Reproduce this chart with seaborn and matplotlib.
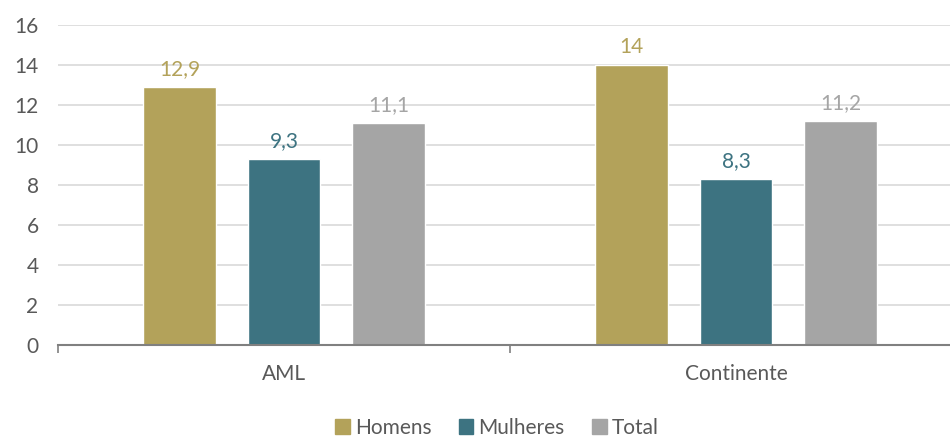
import matplotlib
matplotlib.use("Agg")
import matplotlib.pyplot as plt
import seaborn as sns
import pandas as pd

regions = ["AML", "Continente"]
series = ["Homens", "Mulheres", "Total"]
homens = [12.9, 14.0]
mulheres = [9.3, 8.3]
total = [11.1, 11.2]
value_labels = {"Homens": ["12,9", "14"], "Mulheres": ["9,3", "8,3"], "Total": ["11,1", "11,2"]}
yticks = [0, 2, 4, 6, 8, 10, 12, 14, 16]

colors = {"Homens": "#B3A25A", "Mulheres": "#3D7381", "Total": "#A5A5A5"}

df = pd.DataFrame({
    "regiao": regions * 3,
    "grupo": ["Homens"] * 2 + ["Mulheres"] * 2 + ["Total"] * 2,
    "valor": homens + mulheres + total,
})

sns.set_style("white")
plt.rcParams["font.family"] = ["Lato", "DejaVu Sans"]

fs = 15
fig = plt.figure(figsize=(9.5, 4.37), dpi=100)
ax = fig.add_axes([58 / 950, 1 - 345 / 437, 904 / 950, 320 / 437])

sns.barplot(data=df, x="regiao", y="valor", hue="grupo", order=regions,
            hue_order=series, palette=colors, width=0.694, gap=0.31,
            saturation=1, legend=False, ax=ax, errorbar=None)

for cont, name in zip(ax.containers, series):
    ax.bar_label(cont, labels=value_labels[name], padding=6,
                 color=colors[name], fontsize=fs)

ax.set_xlim(-0.5, 1.5)
ax.set_ylim(0, 16)
ax.set_yticks(yticks)
ax.set_yticklabels([str(t) for t in yticks], fontsize=fs, color="#595959")
ax.yaxis.grid(True, color="#D9D9D9", linewidth=1.2)
ax.set_axisbelow(True)
ax.tick_params(axis="y", length=0, pad=14)

ax.set_xticks([0, 1])
ax.set_xticklabels(regions, fontsize=fs, color="#595959")
ax.tick_params(axis="x", which="major", length=0, pad=14)
ax.set_xticks([-0.5, 0.5, 1.5], minor=True)
ax.tick_params(axis="x", which="minor", bottom=True, length=6, color="#808080",
               width=1.2, direction="out")

for s in ["top", "right", "left"]:
    ax.spines[s].set_visible(False)
ax.spines["bottom"].set_color("#808080")
ax.spines["bottom"].set_linewidth(1.5)
ax.set_xlabel("")
ax.set_ylabel("")

handles = [plt.Rectangle((0, 0), 1, 1, color=colors[s]) for s in series]
fig.legend(handles, series, loc="center", bbox_to_anchor=(497 / 950, 1 - 428 / 437),
           ncol=3, frameon=False, fontsize=fs, handlelength=0.7, handleheight=0.7,
           handletextpad=0.25, columnspacing=1.3, labelcolor="#595959")

fig.savefig("out.png", dpi=100)
